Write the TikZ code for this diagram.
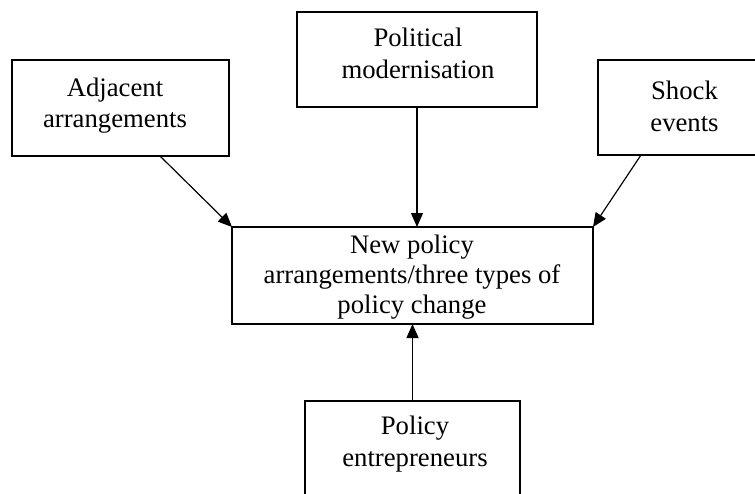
\documentclass[tikz,border=0pt]{standalone}
\usepackage{fontspec}
\setmainfont{Liberation Serif}
\usetikzlibrary{arrows.meta}
\begin{document}
\begin{tikzpicture}[x=1pt,y=-1pt,
  box/.style={draw, line width=1.6pt, inner sep=0pt, outer sep=0pt},
  lbl/.style={align=center, anchor=base, inner sep=0pt, font=\fontsize{26.7}{31.5}\selectfont},
  lblc/.style={lbl, font=\fontsize{26.7}{30}\selectfont},
  arr/.style={line width=1.2pt, -{Triangle[length=14pt,width=12pt]}}]
\useasboundingbox (0,0) rectangle (755,493);
\clip (0,0) rectangle (755,493);
\node[box, minimum width=217pt, minimum height=96pt] (adj) at (120.5,108) {};
\node[box, minimum width=240pt, minimum height=95pt] (pol) at (417,59.5) {};
\node[box, minimum width=173pt, minimum height=95pt] (shk) at (684.5,107.5) {};
\node[box, minimum width=361pt, minimum height=97pt] (ctr) at (412.5,275.5) {};
\node[box, minimum width=215pt, minimum height=96pt] (ent) at (412.5,449) {};
\node[lbl] (tadj) at (115,127.7) {Adjacent\\arrangements};
\node[lbl] (tpol) at (418,78.3) {Political\\modernisation};
\node[lbl] (tshk) at (684.5,131) {Shock\\events};
\node[lblc] (tctr) at (412,313.3) {New policy\\arrangements/three types of\\policy change};
\node[lbl] (tent) at (415,466) {Policy\\entrepreneurs};
\draw[arr] ([xshift=39.5pt]adj.south) -- (ctr.north west);
\draw[arr] (pol.south) -- (pol.south |- ctr.north);
\draw[arr] ([xshift=-43.5pt]shk.south) -- (ctr.north east);
\draw[arr] (ent.north) -- (ent.north |- ctr.south);
\end{tikzpicture}
\end{document}
